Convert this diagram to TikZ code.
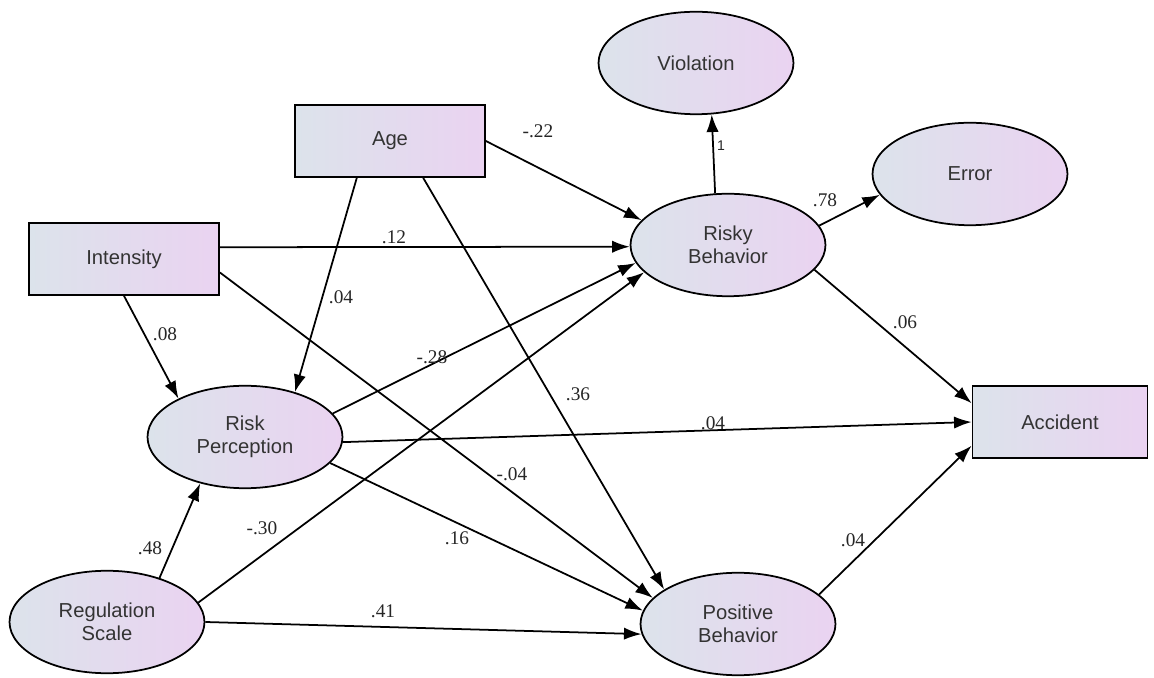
\documentclass[tikz,border=0pt]{standalone}
\usepackage{fontspec}
\setmainfont{Liberation Serif}
\setsansfont{Liberation Sans}
\usepackage{xcolor}
\usepackage{tikz}
\usetikzlibrary{arrows.meta,shapes.geometric}
\definecolor{fadeL}{HTML}{DCE3EB}
\definecolor{fadeR}{HTML}{EAD3F1}
\definecolor{inkgray}{HTML}{333333}

\begin{document}
\begin{tikzpicture}[x=0.02cm, y=-0.02cm,
  latent/.style={ellipse, draw=black, line width=1pt, left color=fadeL, right color=fadeR,
    minimum width=3.9cm, minimum height=2.05cm, inner sep=0pt, align=center,
    font=\sffamily\fontsize{11.5}{13}\selectfont, text=inkgray},
  observed/.style={rectangle, draw=black, line width=1pt, left color=fadeL, right color=fadeR,
    minimum width=3.8cm, minimum height=1.44cm, inner sep=0pt,
    font=\sffamily\fontsize{11.5}{13}\selectfont, text=inkgray},
  causal/.style={-{Latex[length=10pt, width=7pt]}, line width=1pt},
  coef/.style={font=\fontsize{11}{13}\selectfont, text=black!85, inner sep=0.5pt}]
  \useasboundingbox (0,0) rectangle (1154,678);
  % Observed variables
  \node[observed] (age) at (390,141) {Age};
  \node[observed] (intensity) at (124,259) {Intensity};
  \node[observed, minimum width=3.5cm] (accident) at (1060,422) {Accident};
  % Latent variables
  \node[latent] (violation) at (696,63) {Violation};
  \node[latent] (error) at (970,174) {Error};
  \node[latent] (risky) at (728,245) {Risky\\Behavior};
  \node[latent] (riskperc) at (245,437) {Risk\\Perception};
  \node[latent] (regscale) at (107,622) {Regulation\\Scale};
  \node[latent] (positive) at (738,624) {Positive\\Behavior};
  % Paths into Risky Behavior
  \draw[causal] (age.east) -- (risky.164);
  \draw[causal] (intensity.7) -- (risky.181);
  \draw[causal] (riskperc.15) -- (risky.191);
  \draw[causal] (regscale.12) -- (risky.198);
  % Paths out of Risky Behavior
  \draw[causal] (risky.104) -- (violation.287);
  \draw[causal] (risky.12) -- (error.193);
  \draw[causal] (risky.344) -- (accident.168);
  % Paths into Risk Perception
  \draw[causal] (age.228) -- (riskperc.42);
  \draw[causal] (intensity.south) -- (riskperc.150);
  \draw[causal] (regscale.40) -- (riskperc.226);
  % Paths into Positive Behavior
  \draw[causal] (age.312) -- (positive.155);
  \draw[causal] (intensity.352) -- (positive.163);
  \draw[causal] (riskperc.343) -- (positive.172);
  \draw[causal] (regscale.east) -- (positive.186);
  % Paths into Accident
  \draw[causal] (riskperc.357) -- (accident.west);
  \draw[causal] (positive.20) -- (accident.195);
  % Coefficients
  \node[coef] (cAgeRB) at (538,131) {-.22};
  \node[coef] (cIntRB) at (394,237) {.12};
  \node[coef] (cAgeRP) at (341,297) {.04};
  \node[coef] (cIntRP) at (165,334) {.08};
  \node[coef] (cRPRB) at (432,357) {-.28};
  \node[coef] (cAgePB) at (578,394) {.36};
  \node[coef] (cRPAcc) at (713,423) {.04};
  \node[coef] (cIntPB) at (512,474) {-.04};
  \node[coef] (cRPPB) at (457,538) {.16};
  \node[coef] (cRegRP) at (150,548) {.48};
  \node[coef] (cRegRB) at (262,528) {-.30};
  \node[coef] (cRegPB) at (383,611) {.41};
  \node[coef, font=\sffamily\fontsize{8}{9}\selectfont] (cRBVio) at (721,146) {1};
  \node[coef] (cRBErr) at (825,200) {.78};
  \node[coef] (cRBAcc) at (905,322) {.06};
  \node[coef] (cPBAcc) at (853,540) {.04};
\end{tikzpicture}
\end{document}
